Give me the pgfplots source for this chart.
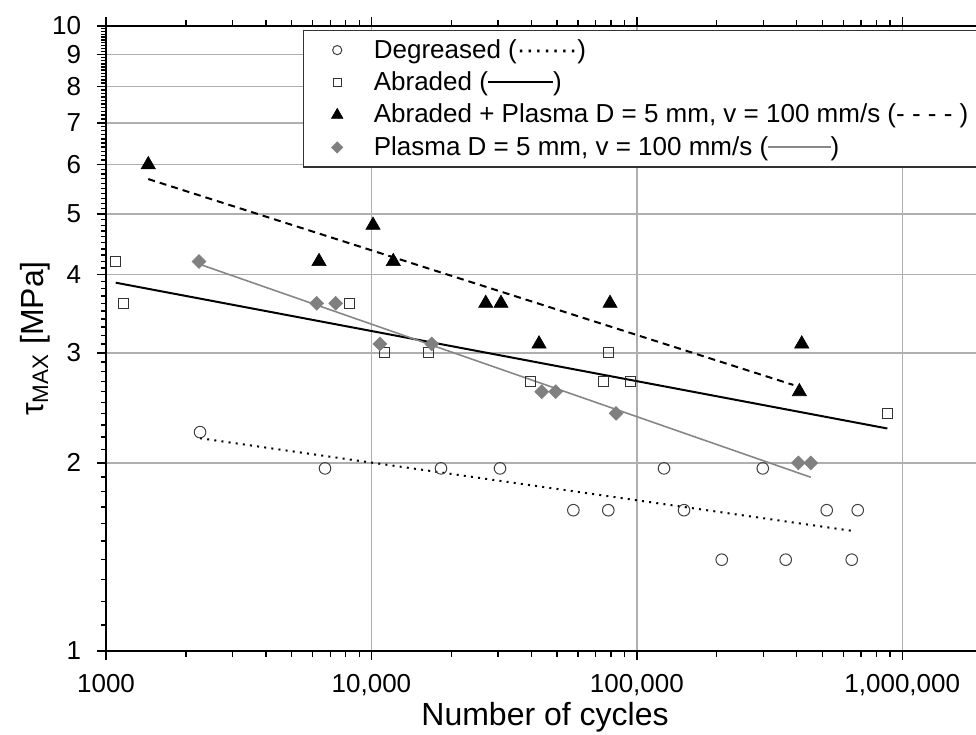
\documentclass[border=0pt]{standalone}
\usepackage{fontspec}
\setmainfont{Liberation Sans}
\usepackage{pgfplots}
\pgfplotsset{compat=1.18}
\usetikzlibrary{calc}
\definecolor{gridgray}{RGB}{175,175,175}
\definecolor{markgray}{RGB}{128,128,128}
\definecolor{linegray}{RGB}{135,135,135}

\begin{document}
\begin{tikzpicture}
\begin{axis}[
  name=ax,
  scale only axis, width=435pt, height=312.5pt,
  xmode=log, ymode=log,
  xmin=1000, xmax=1.897e6, ymin=1, ymax=10,
  axis y line*=left,
  ytick pos=left,
  xtick={1000,10000,100000,1000000},
  xticklabels={1000,{10,000},{100,000},{1,000,000}},
  ytick={1,2,3,4,5,6,7,8,9,10},
  yticklabels={1,2,3,4,5,6,7,8,9,10},
  extra x ticks={2000,3000,4000,5000,6000,7000,8000,9000,
    20000,30000,40000,50000,60000,70000,80000,90000,
    200000,300000,400000,500000,600000,700000,800000,900000},
  extra x tick labels={},
  extra x tick style={grid=none, major tick length=2.5pt, xticklabel style={opacity=0}},
  extra y ticks={1.1,1.2,1.3,1.4,1.5,1.6,1.7,1.8,1.9,
    2.1,2.2,2.3,2.4,2.5,2.6,2.7,2.8,2.9,
    3.1,3.2,3.3,3.4,3.5,3.6,3.7,3.8,3.9,
    4.1,4.2,4.3,4.4,4.5,4.6,4.7,4.8,4.9,
    5.1,5.2,5.3,5.4,5.5,5.6,5.7,5.8,5.9,
    6.1,6.2,6.3,6.4,6.5,6.6,6.7,6.8,6.9,
    7.1,7.2,7.3,7.4,7.5,7.6,7.7,7.8,7.9,
    8.1,8.2,8.3,8.4,8.5,8.6,8.7,8.8,8.9,
    9.1,9.2,9.3,9.4,9.5,9.6,9.7,9.8,9.9},
  extra y tick labels={},
  extra y tick style={grid=none, major tick length=2.5pt, yticklabel style={opacity=0}},
  tick align=outside,
  major tick length=4.5pt,
  every tick/.style={black, line width=0.7pt},
  axis line style={black, line width=1pt},
  grid=major,
  major grid style={gridgray, line width=0.7pt},
  tick label style={font=\fontsize{13}{15}\selectfont},
  yticklabel style={xshift=-4.5pt},
  xticklabel style={yshift=-3.5pt},
  /pgf/number format/assume math mode=true,
  xlabel={Number of cycles},
  ylabel={τ\textsubscript{MAX} [MPa]},
  label style={font=\fontsize{16}{19}\selectfont},
  xlabel style={at={(axis description cs:0.5046,-0.1184)}, anchor=base},
  ylabel style={at={(axis description cs:-0.0724,0.5)}, anchor=base, rotate=0},
  legend image code/.code={\path[draw=none,fill=none] (0pt,-4pt) rectangle (29.5pt,4pt); \draw[#1] plot coordinates {(13pt,0pt)};},
  legend cell align=left,
  legend style={at={(axis description cs:0.226,1)}, anchor=north west, yshift=-2pt,
    draw=black!80, line width=0.6pt, fill=white,
    font=\fontsize{13}{15}\selectfont,
    row sep=1.7pt, inner xsep=4pt, inner ysep=2.5pt,
    nodes={inner sep=1.8pt}},
]

% ---------- trend lines ----------
\addplot[black, line width=1pt, dash pattern=on 1pt off 2.6pt, forget plot]
  coordinates {(2261,2.19) (654300,1.556)};
\addplot[black, line width=1pt, forget plot]
  coordinates {(1088,3.885) (878900,2.27)};
\addplot[black, line width=1pt, dash pattern=on 3.5pt off 2.5pt, forget plot]
  coordinates {(1443,5.69) (388800,2.665)};
\addplot[linegray, line width=0.8pt, forget plot]
  coordinates {(2294,4.146) (452200,1.897)};

% ---------- Degreased ----------
\addplot[only marks, mark=o, mark size=2.9pt, mark options={draw=black!75, fill=white, line width=0.5pt},
  legend image post style={mark size=2.3pt}]
  coordinates {
  (2261,2.24) (6686,1.96) (18290,1.96) (30520,1.96) (57660,1.68) (78080,1.68)
  (126600,1.96) (150600,1.68) (208900,1.40) (298200,1.96) (363900,1.40)
  (519400,1.68) (645200,1.40) (679700,1.68)};
\addlegendentry{Degreased (·······)}

% ---------- Abraded ----------
\addplot[only marks, mark=square, mark size=2.5pt, mark options={draw=black!80, fill=white, line width=0.5pt},
  legend image post style={mark size=2pt}]
  coordinates {
  (1088,4.2) (1162,3.6) (8234,3.6) (11250,3.0) (16380,3.0) (39590,2.7)
  (74770,2.7) (78080,3.0) (94850,2.7) (878900,2.4)};
\addlegendentry{Abraded (\rule[0.3em]{2.5em}{0.7pt})}

% ---------- Abraded + Plasma ----------
\addplot[only marks, mark=triangle*, mark size=4.1pt, mark options={draw=black, fill=black, line width=0.3pt},
  legend image post style={mark size=3.3pt}]
  coordinates {
  (1443,6.0) (6347,4.2) (10140,4.8) (12090,4.2) (26960,3.6) (30780,3.6)
  (42810,3.1) (79250,3.6) (409700,2.6) (418200,3.1)};
\addlegendentry{Abraded + Plasma D = 5 mm, v = 100 mm/s (- - - - )}

% ---------- Plasma ----------
\addplot[only marks, mark=square*, mark size=2.45pt, mark options={rotate=45, draw=markgray, fill=markgray, line width=0.3pt},
  legend image post style={mark size=2pt}]
  coordinates {
  (2241,4.2) (6221,3.6) (7337,3.6) (10770,3.1) (16870,3.1) (43830,2.6)
  (49480,2.6) (83480,2.4) (406100,2.0) (452200,2.0)};
\addlegendentry{Plasma D = 5 mm, v = 100 mm/s (\textcolor{linegray}{\rule[0.3em]{2.4em}{0.6pt}})}

\end{axis}
\pgfresetboundingbox
\path[use as bounding box] ($(ax.south west)+(-53pt,-41.5pt)$) rectangle ($(ax.north east)+(0pt,13pt)$);
\end{tikzpicture}
\end{document}
